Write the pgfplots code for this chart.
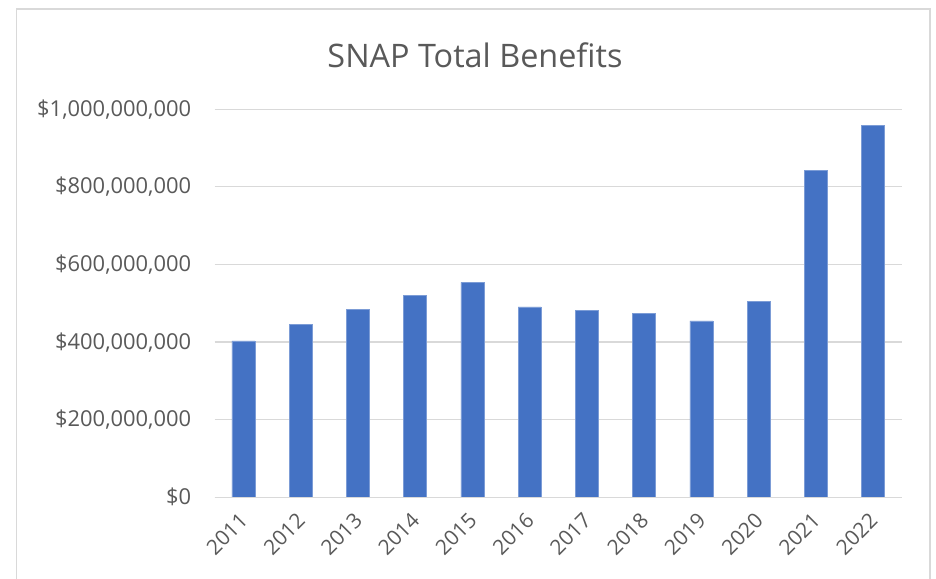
\documentclass[border=0pt]{standalone}
\usepackage{pgfplots}
\pgfplotsset{compat=1.18}
\usepackage{fontspec}
\setmainfont{Open Sans}
\definecolor{barblue}{HTML}{4472C4}
\definecolor{gridgray}{HTML}{D9D9D9}
\definecolor{textgray}{HTML}{595959}
\begin{document}
\begin{tikzpicture}
% page = 936 x 579, axis lower-left at (214.7, 497.3) from the top left
\useasboundingbox (-214.7bp,-81.7bp) rectangle (721.3bp,497.3bp);
\fill[white] (-214.7bp,-81.7bp) rectangle (721.3bp,497.3bp);
\draw[gridgray, line width=1.6bp] (-198bp,-120bp) -- (-198bp,488.3bp) -- (715.3bp,488.3bp) -- (715.3bp,-120bp);
\begin{axis}[
    scale only axis,
    width=687bp, height=388bp,
    ybar, bar width=0.4,
    xmin=-0.5, xmax=11.5,
    ymin=0, ymax=1000,
    xtick={0,...,11},
    xticklabels={2011,2012,2013,2014,2015,2016,2017,2018,2019,2020,2021,2022},
    ytick={0,200,400,600,800,1000},
    yticklabels={{\$0},{\$200,000,000},{\$400,000,000},{\$600,000,000},{\$800,000,000},{\$1,000,000,000}},
    major tick length=0pt,
    axis line style={draw=none},
    ymajorgrids, grid style={gridgray, line width=1.2bp},
    yticklabel style={font=\fontsize{22}{26}\selectfont, text=textgray, xshift=-20bp},
    xticklabel style={font=\fontsize{21}{24}\selectfont, text=textgray, rotate=45, anchor=north east, xshift=-10bp, yshift=-3bp},
    clip=false,
]
\addplot[fill=barblue, draw=barblue!70!white, line width=0.4bp] coordinates {
(0,403) (1,445) (2,485) (3,521) (4,554) (5,491)
(6,481) (7,474) (8,455) (9,505) (10,842) (11,958)
};
\draw[gridgray, line width=1.6bp] (axis cs:-0.5,0) -- (axis cs:11.5,0);
\end{axis}
\node[text=textgray, font=\fontsize{32.5}{38}\selectfont] at (260.3bp,442.3bp) {SNAP Total Benefits};
\end{tikzpicture}
\end{document}
